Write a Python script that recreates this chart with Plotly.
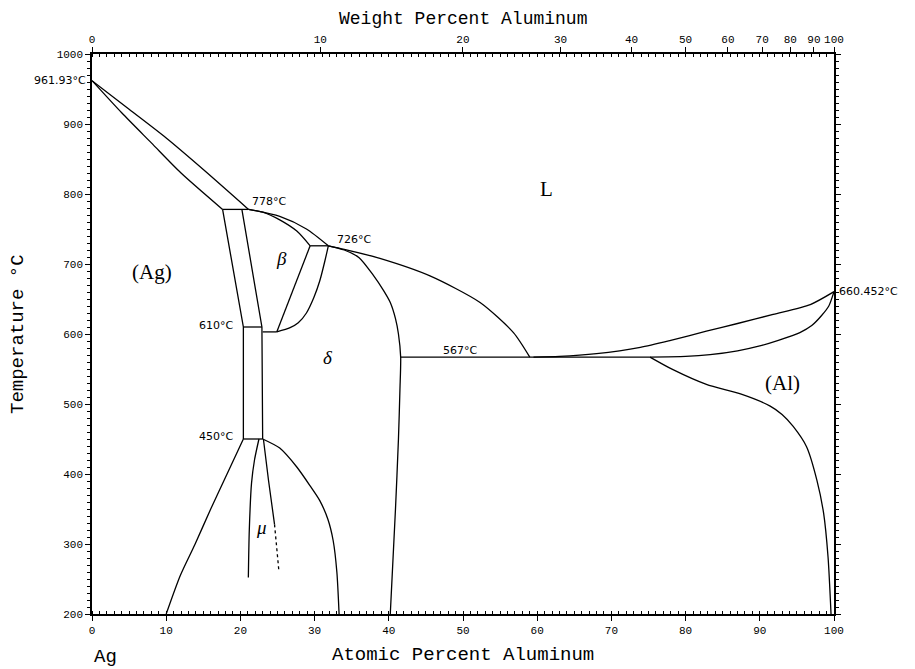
import plotly.graph_objects as go

# ---------------- data (at.% Al, temperature °C) ----------------
liq_ag_x = [0, 5, 10, 15, 21.1]
liq_ag_t = [961.93, 921, 880, 835, 778]
sol_ag_x = [0, 4, 8, 12, 17.6]
sol_ag_t = [961.93, 916, 873, 830, 778]

iso778_x = [17.6, 21.1]
iso778_t = [778, 778]
zeta_l_x = [17.6, 20.4, 20.4]
zeta_l_t = [778, 610, 450]
zeta_r_x = [20.2, 22.9, 23.0]
zeta_r_t = [778, 610, 450]
iso610_x = [20.4, 22.9]
iso610_t = [610, 610]
iso603_x = [23.0, 24.9]
iso603_t = [603, 603]
iso450_x = [20.4, 23.0]
iso450_t = [450, 450]

liq_b_x = [21.1, 25.3, 28.9, 31.85]
liq_b_t = [778, 768, 750, 726]
liq_mid_x = [31.85, 34.0, 38.8, 45.55, 52.3, 56.8, 59.0]
liq_mid_t = [726, 721, 708, 683, 645, 602, 567]
beta_top_x = [21.1, 23.0, 25.3, 27.6, 29.4]
beta_top_t = [778, 774, 763, 747, 726]
iso726_x = [29.4, 31.85]
iso726_t = [726, 726]
beta_r_x = [29.4, 24.9]
beta_r_t = [726, 603]
delta_l_x = [31.85, 31.4, 30.7, 29.9, 28.9, 27.8, 26.7, 24.9]
delta_l_t = [726, 705, 676, 652, 630, 616, 609, 603]
delta_r_x = [31.85, 34.0, 36.0, 37.9, 39.3, 40.2, 40.9, 41.3, 41.6, 41.5, 41.3, 40.9, 40.2]
delta_r_t = [726, 720, 709, 684, 662, 645, 622, 600, 567, 520, 450, 350, 200]

iso567_x = [41.6, 75.2]
iso567_t = [567, 567]
liq_al_x = [59.5, 63, 68, 73.9, 78, 82.8, 87, 91.8, 96.8, 100]
liq_al_t = [567, 568, 572, 581, 591, 604, 615, 628, 642, 660.452]
sol_al_x = [75.2, 80, 83.3, 87, 90, 92.5, 95.4, 97, 98.3, 99.3, 100]
sol_al_t = [567, 568, 570.5, 576, 583, 591, 602, 612, 626, 640, 660.452]
solv_al_x = [75.2, 78.3, 82.8, 87.5, 91.4, 93, 94.5, 96.3, 97.7, 98.6, 99.2, 99.6]
solv_al_t = [567, 549, 528, 514, 497, 485, 468, 439, 391, 344, 281, 200]

solv_ag_x = [20.4, 18.2, 16.0, 13.9, 11.9, 10.0]
solv_ag_t = [450, 400, 350, 300, 255, 200]
dome_x = [23.0, 25.3, 27.6, 29.4, 30.7, 31.8, 32.5, 33.0, 33.3]
dome_t = [450, 437, 410, 383, 362, 335, 305, 260, 200]
mu_l_x = [22.5, 21.9, 21.5, 21.2, 21.07]
mu_l_t = [450, 420, 387, 320, 252]
mu_r_x = [23.1, 23.8, 24.6]
mu_r_t = [450, 390, 328]
mu_r_dash_x = [24.6, 25.2]
mu_r_dash_t = [328, 260]

at_ticks = [0, 10, 20, 30, 40, 50, 60, 70, 80, 90, 100]
wt_ticks = [0, 10, 20, 30, 40, 50, 60, 70, 80, 90, 100]
t_ticks = [200, 300, 400, 500, 600, 700, 800, 900, 1000]
M_AL, M_AG = 26.98, 107.87

def wt_to_at(w):
    if w >= 100:
        return 100.0
    a = w / M_AL
    b = (100 - w) / M_AG
    return 100 * a / (a + b)

wt_pos = [wt_to_at(w) for w in wt_ticks]

# ---------------- figure ----------------
fig = go.Figure()

curves = [
    (liq_ag_x, liq_ag_t), (sol_ag_x, sol_ag_t), (liq_b_x, liq_b_t),
    (liq_mid_x, liq_mid_t), (beta_top_x, beta_top_t), (delta_l_x, delta_l_t),
    (delta_r_x, delta_r_t), (liq_al_x, liq_al_t), (sol_al_x, sol_al_t),
    (solv_al_x, solv_al_t), (solv_ag_x, solv_ag_t), (dome_x, dome_t),
    (mu_l_x, mu_l_t), (mu_r_x, mu_r_t),
]
straight = [
    (iso778_x, iso778_t), (zeta_l_x, zeta_l_t), (zeta_r_x, zeta_r_t),
    (iso610_x, iso610_t), (iso603_x, iso603_t), (iso450_x, iso450_t),
    (iso726_x, iso726_t), (beta_r_x, beta_r_t), (iso567_x, iso567_t),
]
for xs, ts in curves:
    fig.add_trace(go.Scatter(x=xs, y=ts, mode="lines",
                             line=dict(color="black", width=1.3, shape="spline", smoothing=0.7),
                             showlegend=False, hoverinfo="skip"))
for xs, ts in straight:
    fig.add_trace(go.Scatter(x=xs, y=ts, mode="lines",
                             line=dict(color="black", width=1.3),
                             showlegend=False, hoverinfo="skip"))
fig.add_trace(go.Scatter(x=mu_r_dash_x, y=mu_r_dash_t, mode="lines",
                         line=dict(color="black", width=1.3, dash="3px,3px"),
                         showlegend=False, hoverinfo="skip"))
# invisible trace on the top axis so it is drawn
fig.add_trace(go.Scatter(x=[0, 100], y=[200, 200], xaxis="x2", mode="lines",
                         line=dict(width=0), showlegend=False, hoverinfo="skip"))

MONO = "Liberation Mono"
SANS = "DejaVu Sans"
SERIF = "Liberation Serif"
tickfont = dict(family=MONO, size=11, color="black")

fig.update_layout(
    width=907, height=661,
    margin=dict(l=84, r=81, t=46, b=55),
    paper_bgcolor="white", plot_bgcolor="white",
    showlegend=False,
    xaxis=dict(range=[0, 100], tickmode="array", tickvals=at_ticks,
               ticktext=[str(v) for v in at_ticks],
               showgrid=False, zeroline=False, showline=True,
               linecolor="black", linewidth=1.5, mirror=False,
               ticks="outside", ticklen=5, tickwidth=1.3, tickcolor="black",
               tickfont=tickfont,
               minor=dict(tickmode="linear", tick0=0, dtick=1, ticks="inside",
                          ticklen=3, tickwidth=1, tickcolor="black", showgrid=False)),
    xaxis2=dict(range=[0, 100], overlaying="x", side="top", anchor="y",
                tickmode="array", tickvals=wt_pos,
                ticktext=[str(v) for v in wt_ticks],
                showgrid=False, zeroline=False, showline=True,
                linecolor="black", linewidth=1.5,
                ticks="outside", ticklen=5, tickwidth=1.3, tickcolor="black",
                tickfont=tickfont,
                minor=dict(tickmode="linear", tick0=0, dtick=1, ticks="inside",
                           ticklen=3, tickwidth=1, tickcolor="black", showgrid=False)),
    yaxis=dict(range=[200, 1000], tickmode="array", tickvals=t_ticks,
               ticktext=[str(v) for v in t_ticks],
               showgrid=False, zeroline=False, showline=True,
               linecolor="black", linewidth=1.5, mirror="ticks",
               ticks="outside", ticklen=5, tickwidth=1.3, tickcolor="black",
               tickfont=tickfont,
               minor=dict(tickmode="linear", tick0=200, dtick=10, ticks="outside",
                          ticklen=3, tickwidth=1, tickcolor="black", showgrid=False)),
)

ann = []
def txt(x, y, s, font, xanchor="center", yanchor="middle", xref="x", yref="y",
        xshift=0, yshift=0, angle=0):
    ann.append(dict(x=x, y=y, text=s, font=font, showarrow=False,
                    xanchor=xanchor, yanchor=yanchor, xref=xref, yref=yref,
                    xshift=xshift, yshift=yshift, textangle=angle))

small = dict(family=SANS, size=11, color="black")
txt(21.3, 789, "778°C", small, xanchor="left")
txt(32.7, 735, "726°C", small, xanchor="left")
txt(19.3, 612, "610°C", small, xanchor="right")
txt(19.3, 453, "450°C", small, xanchor="right")
txt(47.1, 577, "567°C", small, xanchor="left")
txt(100, 660.452, "660.452°C", small, xanchor="left", xshift=3)
txt(0, 961.93, "961.93°C", small, xanchor="right", xshift=-4)

big = dict(family=SERIF, size=21, color="black")
txt(61.3, 807, "L", big)
txt(8.1, 689, "(Ag)", big)
txt(93.0, 530, "(Al)", big)
greek = dict(family=SERIF, size=19, color="black")
txt(25.5, 708, "<i>β</i>", greek)
txt(31.8, 566, "<i>δ</i>", greek)
txt(22.8, 324, "<i>μ</i>", greek)

title_font = dict(family=MONO, size=19, color="black")
top_font = dict(family=MONO, size=18, color="black")
txt(0.5, 0, "Atomic Percent Aluminum", title_font, xref="paper", yref="paper",
    yanchor="middle", yshift=-41)
txt(0.5, 1, "Weight Percent Aluminum", top_font, xref="paper", yref="paper",
    yanchor="middle", yshift=35)
txt(0, 0.5, "Temperature °C", title_font, xref="paper", yref="paper",
    xanchor="center", xshift=-74, angle=-90)
txt(1.8, 0, "Ag", title_font, xref="x", yref="paper", yanchor="middle", yshift=-43)
txt(100.5, 0, "Al", title_font, xref="x", yref="paper", yanchor="middle", yshift=-43)

fig.update_layout(annotations=ann)
fig.write_html("out.html")
